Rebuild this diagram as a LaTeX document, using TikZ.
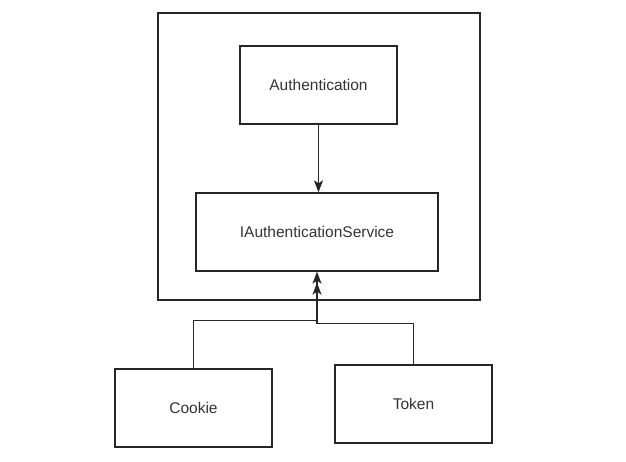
\documentclass[tikz,border=0pt]{standalone}
\usepackage{fontspec}
\setmainfont{Liberation Sans}
\usepackage{tikz}
\usetikzlibrary{arrows.meta,positioning}

\begin{document}
\begin{tikzpicture}[x=1pt, y=-1pt, >={Stealth[length=12pt,width=9pt,inset=3pt]}, line width=1.3pt]
	\tikzstyle{all nodes}=[shape=rectangle]
	\tikzstyle{box}=[draw=black!85, inner sep=0pt, font=\fontsize{15.5}{18}\selectfont, text=black!80]
	\useasboundingbox (0,0) rectangle (626,462);
	% % Nodes
	% container
	\node[box, minimum width=322pt, minimum height=287pt](outer) at (319,156.5) {};
	% authentication
	\node[box, minimum width=157pt, minimum height=78pt](auth) at (318.5,85) {Authentication};
	% service interface
	\node[box, minimum width=242pt, minimum height=78pt](iauth) at (317,232) {IAuthenticationService};
	% implementations
	\node[box, minimum width=157pt, minimum height=78pt](cookie) at (193.5,408) {Cookie};
	\node[box, minimum width=157pt, minimum height=78pt](token) at (413.5,404) {Token};
	% % Connectors
	\draw [->, draw=black!85] (auth.south) -- (auth.south |- iauth.north);
	\draw [->, draw=black!85] (cookie.north) |- ([yshift=-49pt]iauth.south) -- (iauth.south);
	\draw [->, draw=black!85, shorten >=11pt] (token.north) |- ([yshift=-52pt]iauth.south) -- (iauth.south);
\end{tikzpicture}
\end{document}
